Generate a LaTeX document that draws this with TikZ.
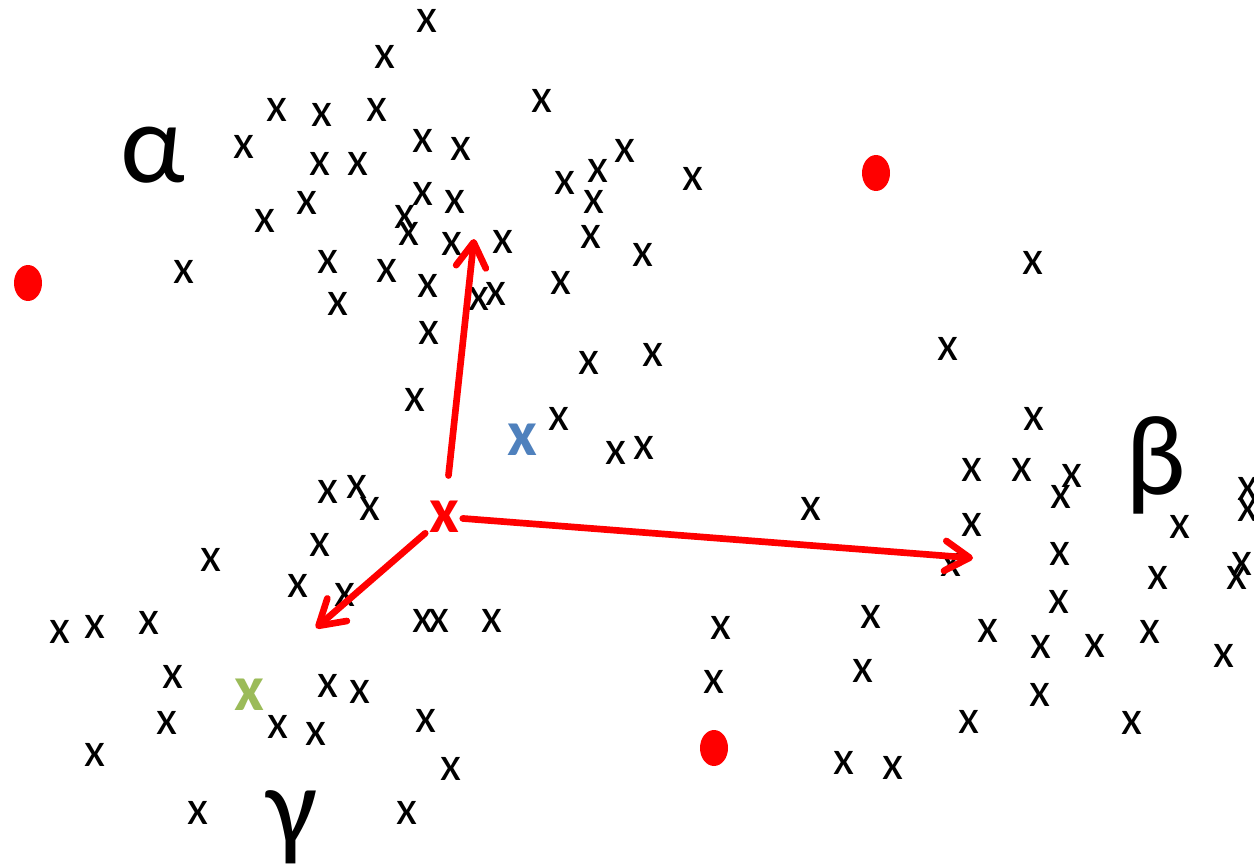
\documentclass[tikz,border=0pt]{standalone}
\usepackage{fontspec}
\setmainfont{Carlito}
\usepackage{tikz}
\usetikzlibrary{arrows.meta,shapes.geometric}
\usepackage{xcolor}
\definecolor{offblue}{HTML}{4F81BD}
\definecolor{offgreen}{HTML}{9BBB59}

\begin{document}
\begin{tikzpicture}[
    x=0.02cm, y=-0.02cm,
    xmark/.style={inner sep=0pt, font=\fontsize{27.5}{30}\selectfont, text=#1},
    xmark/.default={black},
    bigx/.style={inner sep=2pt, font=\fontsize{37}{40}\selectfont\bfseries, text=#1},
    bigx/.default={red},
    reddot/.style={ellipse, fill=red, inner sep=0pt, minimum width=0.56cm, minimum height=0.72cm},
    greek/.style={inner sep=0pt, font=\fontsize{65}{70}\selectfont},
    arr/.style={-{Straight Barb[round, length=14pt, width=17pt]}, line width=3.8pt, red, line cap=round, #1},
    arr/.default={},
]
\useasboundingbox (0,0) rectangle (1254,865);
\clip (0,0) rectangle (1254,865);

% ===== CLUSTER ALPHA =====
\foreach \px/\py [count=\i] in {427/21, 385/57, 277/110, 322/115, 377/110, 244/147, 320/164, 358/164,
    423/141, 461/149, 542/101, 565/183, 598/171, 625/151, 594/202, 693/179, 307/203, 265/221,
    423/194, 455/202, 405/217, 409/234, 452/244, 503/242, 591/237, 643/255, 184/272, 328/262,
    387/271, 428/286, 479/299, 496/294, 561/283, 338/304, 429/333, 589/363, 653/355, 415/400,
    559/419, 616/453, 644/448}
    \node[xmark] (a\i) at (\px,\py) {x};

% ===== CLUSTER BETA =====
\foreach \px/\py [count=\i] in {1033/263, 948/349, 1034/419, 972/470, 1022/470, 1072/476, 1061/497,
    811/509, 972/525, 1060/554, 951/565, 1158/578, 1180/527, 1242/564, 1237/578, 1248/489,
    1248/510, 1059/602, 721/628, 871/617, 988/631, 1041/647, 1095/646, 1150/632, 1224/656,
    714/682, 863/671, 1040/695, 969/722, 1132/723, 844/763, 893/768}
    \node[xmark] (b\i) at (\px,\py) {x};

% ===== CLUSTER GAMMA =====
\foreach \px/\py [count=\i] in {328/492, 357/487, 370/509, 320/545, 211/560, 298/586, 345/595,
    60/632, 95/627, 149/623, 423/621, 439/621, 492/621, 173/677, 328/686, 360/692, 167/723,
    278/727, 316/734, 426/721, 95/755, 451/769, 198/813, 407/813}
    \node[xmark] (g\i) at (\px,\py) {x};

\node[greek] (alpha) at (153,155) {α};
\node[greek] (beta) at (1156,465) {β};
\node[greek] (gamma) at (292,827) {γ};

\node[reddot] (dotA) at (28,283) {};
\node[reddot] (dotB) at (876,173) {};
\node[reddot] (dotC) at (714,748) {};

\node[bigx=offblue] (bluex) at (522,440) {x};
\node[bigx=offgreen] (greenx) at (249,695) {x};
\node[bigx] (redx) at (444,517) {x};

% ===== ARROWS =====
\coordinate (tipA) at (474,239);
\coordinate (tipB) at (973,558);
\coordinate (tipC) at (316,628);
\draw[arr={shorten <=0.44cm}] (redx) -- (tipA);
\draw[arr] (redx) -- (tipB);
\draw[arr] (redx) -- (tipC);

\end{tikzpicture}
\end{document}
